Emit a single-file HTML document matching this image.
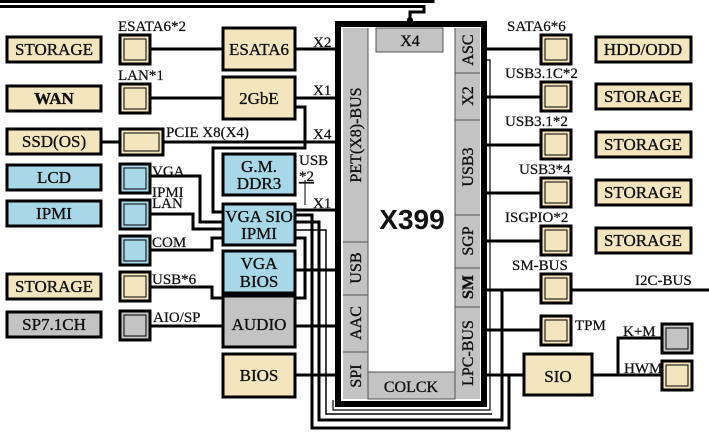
<!DOCTYPE html>
<html><head><meta charset="utf-8"><style>
html,body{margin:0;padding:0;background:#fff;width:709px;height:434px;overflow:hidden}
svg{display:block}
text{font-family:"Liberation Serif",serif;fill:#111}
.t{fill:#f3e5bd}.b{fill:#a8d8e8}.g{fill:#c3c3c3}
.bx text{stroke:#111;stroke-width:0.35}
.lb text{stroke:#111;stroke-width:0.25}
</style></head><body>
<svg width="709" height="434" viewBox="0 0 709 434" xmlns="http://www.w3.org/2000/svg">
<g fill="none" stroke="#000">
<path d="M0 1.5 H433 V0" stroke-width="3"/>
<path d="M0 6.5 H424 V12 H410 V20" stroke-width="3"/>
<g stroke-width="3">
<path d="M150 49 H223 M295 49 H337"/>
<path d="M150 98 H223 M295 98 H337"/>
<path d="M102 142 H119 M163 142 H337"/>
<path d="M295 107 H305 V148 H213 V212 H223"/>
<path d="M295 210 H337"/>
<path d="M150 176 H200 V222 H223"/>
<path d="M150 214 H193 V229 H223"/>
<path d="M150 250 H212 V238 H223"/>
<path d="M150 287 H212 V298 H305 V238 H295"/>
<path d="M295 270 H337"/>
<path d="M150 326 H223 M295 326 H337"/>
<path d="M295 375 H337"/>
<path d="M295 215 H312 V428 H509 V375"/>
<path d="M295 222 H319 V420 H502 V290"/>
</g>
<path d="M295 230 H326 V414 H492" stroke-width="1.5"/>
<path d="M333 400 V410 H490 V60 H478 V22" stroke-width="1.2"/>
<path d="M305 180 V205" stroke-width="1"/>
<g stroke-width="3">
<path d="M486 49 H541 M486 97 H541 M486 145 H541 M486 193 H541 M486 241 H541"/>
<path d="M486 290 H541 M571 290 H709"/>
<path d="M486 330 H541"/>
<path d="M486 375 H523"/>
<path d="M592 375 H618 V338 H661 M618 375 H661"/>
</g>
</g>
<circle cx="410" cy="20" r="3"/>
<rect x="338" y="24" width="146" height="380" fill="#fff" stroke="#000" stroke-width="6"/>
<rect x="343" y="28" width="25" height="371" class="g"/>
<rect x="455" y="28" width="25" height="371" class="g"/>
<rect x="368" y="372" width="87" height="27" class="g" stroke="#555" stroke-width="1"/>
<rect x="376" y="28" width="67" height="24" class="g" stroke="#555" stroke-width="1"/>
<g stroke="#555" stroke-width="1">
<path d="M343 242 H368 M343 295 H368 M343 352 H368 M368 28 V399 M455 28 V399"/>
<path d="M455 73 H480 M455 120 H480 M455 215 H480 M455 268 H480 M455 307 H480"/>
</g>
<g class="bx">
<text x="410" y="46" font-size="16" text-anchor="middle">X4</text>
<text x="411" y="392" font-size="16" text-anchor="middle">COLCK</text>
</g>
<text x="412" y="229" font-size="28" font-weight="bold" text-anchor="middle" style="font-family:'Liberation Sans',sans-serif">X399</text>
<g font-size="16" text-anchor="middle" class="bx">
<text transform="translate(361,135) rotate(-90)">PET(X8)-BUS</text>
<text transform="translate(361,268) rotate(-90)">USB</text>
<text transform="translate(361,323) rotate(-90)">AAC</text>
<text transform="translate(361,376) rotate(-90)">SPI</text>
<text transform="translate(473,50) rotate(-90)">ASC</text>
<text transform="translate(473,96) rotate(-90)">X2</text>
<text transform="translate(473,167) rotate(-90)">USB3</text>
<text transform="translate(473,241) rotate(-90)">SGP</text>
<text transform="translate(473,287) rotate(-90)" font-weight="bold">SM</text>
<text transform="translate(473,353) rotate(-90)">LPC-BUS</text>
</g>
<g stroke="#000" stroke-width="3">
<rect x="7" y="37" width="94" height="25" class="t"/>
<rect x="7" y="86" width="94" height="25" class="t"/>
<rect x="7" y="129" width="94" height="25" class="t"/>
<rect x="7" y="165" width="94" height="25" class="b"/>
<rect x="7" y="201" width="94" height="25" class="b"/>
<rect x="7" y="274" width="94" height="25" class="t"/>
<rect x="7" y="312" width="94" height="25" class="g"/>
<rect x="223" y="28" width="72" height="42" class="t"/>
<rect x="223" y="77" width="72" height="42" class="t"/>
<rect x="223" y="154" width="72" height="41" class="b"/>
<rect x="223" y="204" width="72" height="41" class="b"/>
<rect x="223" y="251" width="72" height="42" class="b"/>
<rect x="223" y="296" width="72" height="51" class="g"/>
<rect x="223" y="354" width="72" height="43" class="t"/>
<rect x="596" y="37" width="95" height="25" class="t"/>
<rect x="596" y="84" width="95" height="25" class="t"/>
<rect x="596" y="132" width="95" height="25" class="t"/>
<rect x="596" y="180" width="95" height="25" class="t"/>
<rect x="596" y="228" width="95" height="25" class="t"/>
<rect x="524" y="354" width="68" height="41" class="t"/>
</g>
<g stroke="#000" stroke-width="3">
<rect x="120" y="35" width="30" height="29" class="t"/>
<rect x="120" y="84" width="30" height="29" class="t"/>
<rect x="120" y="129" width="43" height="26" class="t"/>
<rect x="120" y="164" width="30" height="29" class="b"/>
<rect x="120" y="200" width="30" height="29" class="b"/>
<rect x="120" y="236" width="30" height="29" class="b"/>
<rect x="120" y="272" width="30" height="29" class="t"/>
<rect x="120" y="311" width="30" height="29" class="g"/>
<rect x="541" y="35" width="30" height="29" class="t"/>
<rect x="541" y="82" width="30" height="29" class="t"/>
<rect x="541" y="130" width="30" height="29" class="t"/>
<rect x="541" y="178" width="30" height="29" class="t"/>
<rect x="541" y="226" width="30" height="29" class="t"/>
<rect x="541" y="274" width="30" height="29" class="t"/>
<rect x="541" y="316" width="30" height="29" class="t"/>
<rect x="662" y="324" width="30" height="29" class="g"/>
<rect x="662" y="361" width="30" height="29" class="t"/>
</g>
<g fill="none" stroke="#000" stroke-width="1">
<rect x="124" y="39" width="22" height="21"/><rect x="124" y="88" width="22" height="21"/>
<rect x="124" y="133" width="35" height="18"/><rect x="124" y="168" width="22" height="21"/>
<rect x="124" y="204" width="22" height="21"/><rect x="124" y="240" width="22" height="21"/>
<rect x="124" y="276" width="22" height="21"/><rect x="124" y="315" width="22" height="21"/>
<rect x="545" y="39" width="22" height="21"/><rect x="545" y="86" width="22" height="21"/>
<rect x="545" y="134" width="22" height="21"/><rect x="545" y="182" width="22" height="21"/>
<rect x="545" y="230" width="22" height="21"/><rect x="545" y="278" width="22" height="21"/>
<rect x="545" y="320" width="22" height="21"/><rect x="666" y="328" width="22" height="21"/>
<rect x="666" y="365" width="22" height="21"/>
</g>
<g font-size="17" text-anchor="middle" class="bx">
<text x="54" y="55">STORAGE</text><text x="54" y="104" font-weight="bold">WAN</text>
<text x="54" y="147">SSD(OS)</text><text x="54" y="183">LCD</text>
<text x="54" y="219">IPMI</text><text x="54" y="292">STORAGE</text>
<text x="54" y="330">SP7.1CH</text>
<text x="259" y="55">ESATA6</text><text x="259" y="104">2GbE</text>
<text x="259" y="172">G.M.</text><text x="259" y="189">DDR3</text>
<text x="259" y="222">VGA SIO</text><text x="259" y="239">IPMI</text>
<text x="259" y="269">VGA</text><text x="259" y="287">BIOS</text>
<text x="259" y="330">AUDIO</text><text x="259" y="381">BIOS</text>
<text x="643" y="55">HDD/ODD</text><text x="643" y="102">STORAGE</text>
<text x="643" y="150">STORAGE</text><text x="643" y="198">STORAGE</text>
<text x="643" y="246">STORAGE</text><text x="558" y="382">SIO</text>
</g>
<g font-size="15" class="lb">
<text x="118" y="31">ESATA6*2</text><text x="118" y="80">LAN*1</text>
<text x="166" y="137">PCIE X8(X4)</text><text x="152" y="176">VGA</text>
<text x="152" y="197">IPMI</text><text x="152" y="208">LAN</text>
<text x="152" y="247">COM</text><text x="152" y="284">USB*6</text>
<text x="153" y="322">AIO/SP</text>
<text x="313" y="47">X2</text><text x="313" y="95">X1</text><text x="313" y="139">X4</text><text x="313" y="208">X1</text>
<text x="299" y="165">USB</text><text x="299" y="181" text-decoration="underline">*2</text>
<text x="507" y="31">SATA6*6</text><text x="505" y="78">USB3.1C*2</text>
<text x="505" y="126">USB3.1*2</text><text x="519" y="174">USB3*4</text>
<text x="505" y="222">ISGPIO*2</text><text x="512" y="270">SM-BUS</text>
<text x="635" y="285">I2C-BUS</text><text x="575" y="330">TPM</text>
<text x="623" y="336">K+M</text><text x="624" y="373">HWM</text>
</g>
</svg>
</body></html>
